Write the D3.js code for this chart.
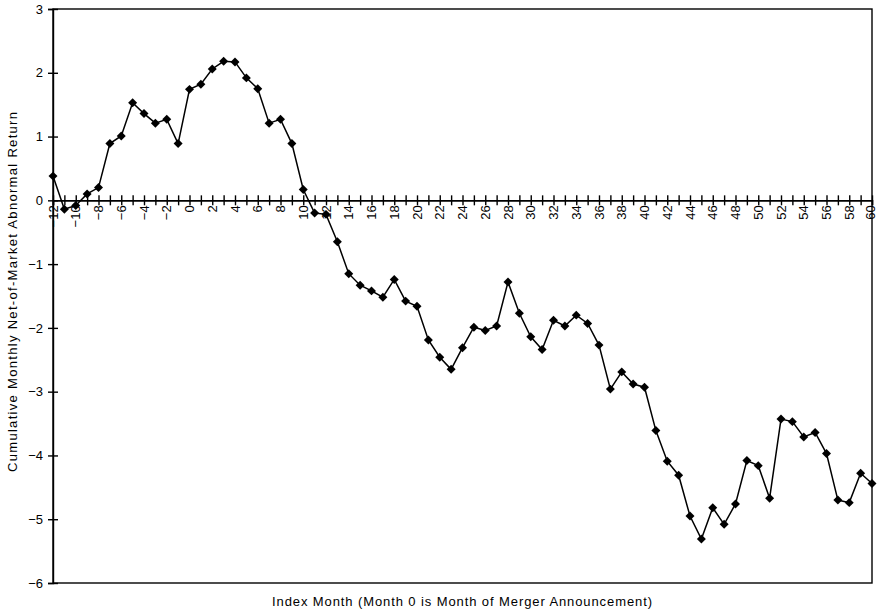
<!DOCTYPE html>
<html>
<head>
<meta charset="utf-8">
<script src="https://cdn.jsdelivr.net/npm/d3@7"></script>
<style>
  body { margin: 0; background: #fff; }
  text { font-family: "Liberation Sans", Arial, sans-serif; fill: #000; }
</style>
</head>
<body>
<script>
// index month, -12 .. 60
const months = [-12,-11,-10,-9,-8,-7,-6,-5,-4,-3,-2,-1,0,1,2,3,4,5,6,7,8,9,10,11,12,
  13,14,15,16,17,18,19,20,21,22,23,24,25,26,27,28,29,30,31,32,33,34,35,36,
  37,38,39,40,41,42,43,44,45,46,47,48,49,50,51,52,53,54,55,56,57,58,59,60];

// cumulative net-of-market abnormal return
const car = [0.38,-0.14,-0.08,0.10,0.20,0.89,1.01,1.53,1.36,1.21,1.27,0.89,1.74,1.82,2.06,2.18,2.17,1.92,1.75,1.21,1.27,0.89,0.17,-0.20,-0.22,
  -0.65,-1.15,-1.33,-1.42,-1.52,-1.24,-1.58,-1.66,-2.19,-2.46,-2.65,-2.31,-1.99,-2.04,-1.97,-1.28,-1.77,-2.14,-2.34,-1.88,-1.97,-1.80,-1.93,-2.27,
  -2.96,-2.69,-2.88,-2.93,-3.61,-4.09,-4.31,-4.95,-5.31,-4.82,-5.08,-4.76,-4.08,-4.16,-4.67,-3.43,-3.47,-3.71,-3.64,-3.97,-4.70,-4.74,-4.28,-4.44];

const yTicks = [-6,-5,-4,-3,-2,-1,0,1,2,3];

const data = months.map((m, i) => ({ m: m, v: car[i] }));

const width = 878, height = 614;
const svg = d3.select("body").append("svg")
  .attr("width", width)
  .attr("height", height);

svg.append("rect").attr("width", width).attr("height", height).attr("fill", "#fff");

const x = d3.scaleLinear().domain([-12, 60]).range([53, 872]);
const y = d3.scaleLinear().domain([-6, 3]).range([583, 9]);

// plot frame
svg.append("rect")
  .attr("x", x(-12)).attr("y", y(3))
  .attr("width", x(60) - x(-12)).attr("height", y(-6) - y(3))
  .attr("fill", "none").attr("stroke", "#000").attr("stroke-width", 1.4);

// y axis, ticks cross the line
const yAxis = svg.append("g")
  .attr("transform", `translate(${x(-12)},0)`)
  .call(d3.axisLeft(y).tickValues(yTicks).tickSize(5).tickPadding(5));
yAxis.select(".domain").attr("stroke", "#000").attr("stroke-width", 1.4);
yAxis.selectAll(".tick line").attr("x1", -5).attr("x2", 5).attr("stroke", "#000").attr("stroke-width", 1.4);
yAxis.selectAll(".tick text").style("font-size", "13px").attr("fill", "#000");

// x axis along zero, every month ticked, even months labelled
const xAxis = svg.append("g")
  .attr("transform", `translate(0,${y(0)})`)
  .call(d3.axisBottom(x).tickValues(months).tickSize(5)
    .tickFormat(d => d % 2 === 0 ? d3.format("d")(d) : ""));
xAxis.select(".domain").attr("stroke", "#000").attr("stroke-width", 1.6);
xAxis.selectAll(".tick line").attr("y1", -5).attr("y2", 5).attr("stroke", "#000").attr("stroke-width", 1.4);
xAxis.selectAll(".tick text")
  .attr("transform", "rotate(-90)")
  .attr("x", -5)
  .attr("y", d => d === 60 ? -1.5 : 0) // keep last label inside the page
  .attr("dy", "0.32em")
  .attr("text-anchor", "end")
  .style("font-size", "13px")
  .attr("fill", "#000");

// series
const line = d3.line().x(d => x(d.m)).y(d => y(d.v));
svg.append("path")
  .datum(data)
  .attr("d", line)
  .attr("fill", "none")
  .attr("stroke", "#000")
  .attr("stroke-width", 1.5);

const diamond = d3.symbol().type(d3.symbolSquare).size(40);
svg.selectAll(".pt")
  .data(data)
  .enter()
  .append("path")
  .attr("class", "pt")
  .attr("d", diamond)
  .attr("transform", d => `translate(${x(d.m)},${y(d.v)}) rotate(45)`)
  .attr("fill", "#000");

// axis titles
svg.append("text")
  .attr("transform", "translate(17,292) rotate(-90)")
  .attr("text-anchor", "middle")
  .attr("textLength", 360)
  .style("font-size", "13px")
  .text("Cumulative Monthly Net-of-Market Abnormal Return");

svg.append("text")
  .attr("x", 462).attr("y", 606)
  .attr("text-anchor", "middle")
  .attr("textLength", 380)
  .style("font-size", "13px")
  .text("Index Month (Month 0 is Month of Merger Announcement)");
</script>
</body>
</html>
